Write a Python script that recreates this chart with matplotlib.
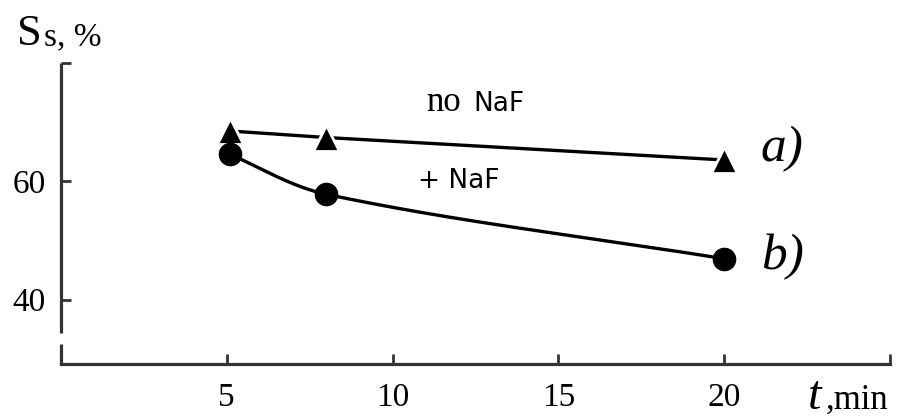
import numpy as np
import matplotlib
matplotlib.use("Agg")
import matplotlib.pyplot as plt

# ---- data ----
t_a = [5.1, 8.0, 20.0]          # no NaF  (curve a)
s_a = [68.5, 67.4, 63.6]
t_b = [5.1, 8.0, 20.0]          # + NaF   (curve b)
s_b = [64.6, 57.8, 46.9]
x_ticks = [5, 10, 15, 20]
x_tick_labels = ["5", "10", "15", "20"]
y_ticks = [40, 60]
y_tick_labels = ["40", "60"]


def smooth_curve(x, y, xs):
    """Cubic Hermite curve through the points (length-weighted slopes)."""
    x = np.asarray(x, float)
    y = np.asarray(y, float)
    h = np.diff(x)
    delta = np.diff(y) / h
    n = len(x)
    d = np.zeros(n)
    for k in range(1, n - 1):
        d[k] = (h[k - 1] * delta[k - 1] + h[k] * delta[k]) / (h[k - 1] + h[k])
    d0 = ((2 * h[0] + h[1]) * delta[0] - h[0] * delta[1]) / (h[0] + h[1])
    d[0] = d0 if np.sign(d0) == np.sign(delta[0]) else delta[0]
    d[-1] = delta[-1]
    xs = np.asarray(xs, float)
    out = np.empty_like(xs)
    for i, xv in enumerate(xs):
        k = min(max(np.searchsorted(x, xv) - 1, 0), n - 2)
        tt = (xv - x[k]) / h[k]
        h00 = 2 * tt**3 - 3 * tt**2 + 1
        h10 = tt**3 - 2 * tt**2 + tt
        h01 = -2 * tt**3 + 3 * tt**2
        h11 = tt**3 - tt**2
        out[i] = h00 * y[k] + h10 * h[k] * d[k] + h01 * y[k + 1] + h11 * h[k] * d[k + 1]
    return out


serif = "Liberation Serif"
sans = "DejaVu Sans"
spine_col = "#333333"

fig = plt.figure(figsize=(8.98, 4.19), dpi=100)
W, H = 898, 419
ax = fig.add_axes([61 / W, (H - 364) / H, (890 - 61) / W, (364 - 63) / H])
ax.set_xlim(0, 25)
ax.set_ylim(29.1, 80)

# curve a: straight segments, triangles with white halo
ax.plot(t_a, s_a, color="black", lw=2.4, zorder=2)
ax.plot(t_a, s_a, ls="none", marker="^", ms=19, mfc="black", mec="white",
        mew=2.0, zorder=3)

# curve b: smooth curve through the points, circles
xs = np.linspace(t_b[0], t_b[-1], 300)
ax.plot(xs, smooth_curve(t_b, s_b, xs), color="black", lw=2.4, zorder=2)
ax.plot(t_b, s_b, ls="none", marker="o", ms=16, mfc="black", mec="black",
        zorder=3)

# spines
for s in ["top", "right"]:
    ax.spines[s].set_visible(False)
for s in ["left", "bottom"]:
    ax.spines[s].set_color(spine_col)
    ax.spines[s].set_linewidth(2.3)
ax.spines["left"].set_bounds(34.4, 80)
ax.spines["left"].set_capstyle("butt")
ax.plot([0, 0], [29.1, 32.5], color=spine_col, lw=2.3, clip_on=False,
        solid_capstyle="butt", zorder=4)

# ticks
ax.set_xticks(x_ticks + [25])
ax.set_xticklabels(x_tick_labels + [""])
ax.set_yticks(y_ticks + [80])
ax.set_yticklabels(y_tick_labels + [""])
ax.tick_params(direction="in", length=7, width=2.0, color=spine_col,
               labelsize=24)
ax.tick_params(axis="x", pad=13)
ax.tick_params(axis="y", pad=11)
for lab in ax.get_xticklabels() + ax.get_yticklabels():
    lab.set_fontfamily(serif)

# annotations
ax.text(11.0, 71.9, "no", fontsize=25, family=serif, ha="left", va="baseline")
ax.text(12.45, 71.9, "NaF", fontsize=19, family=sans, ha="left", va="baseline")
ax.text(10.77, 58.8, "+ NaF", fontsize=19, family=sans, ha="left", va="baseline")
ax.text(21.1, 63.4, "a)", fontsize=37, family=serif, style="italic",
        ha="left", va="baseline")
ax.text(21.1, 45.2, "b)", fontsize=37, family=serif, style="italic",
        ha="left", va="baseline")

# axis titles
fig.text(17 / W, 1 - 45 / H, "S", fontsize=32, family=serif, va="baseline")
fig.text(44 / W, 1 - 45 / H, "s, %", fontsize=24, family=serif, va="baseline")
fig.text(808 / W, 1 - 409 / H, "t", fontsize=35, family=serif, style="italic",
         va="baseline")
fig.text(826 / W, 1 - 409 / H, ",min", fontsize=25, family=serif, va="baseline")

fig.savefig("out.png", dpi=100)
